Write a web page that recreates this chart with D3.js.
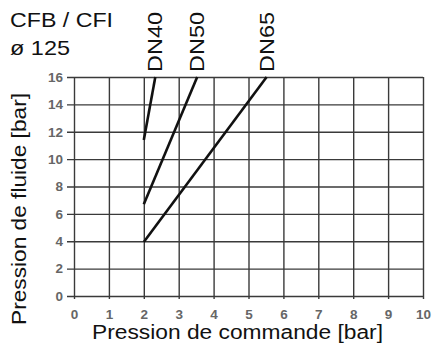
<!DOCTYPE html>
<html>
<head>
<meta charset="utf-8">
<script src="https://cdn.jsdelivr.net/npm/d3@7"></script>
<style>
  body { margin: 0; background: white; }
  svg { font-family: "Liberation Sans", Arial, sans-serif; }
</style>
</head>
<body>
<div id="chart"></div>
<script>
// Data
const xTicks = [0, 1, 2, 3, 4, 5, 6, 7, 8, 9, 10]
const yTicks = [0, 2, 4, 6, 8, 10, 12, 14, 16]
const seriesNames = ["DN40", "DN50", "DN65"]
const startPoints = [[2, 11.4], [2, 6.7], [2, 3.95]]
const endPoints = [[2.33, 16], [3.53, 16], [5.52, 16]]

// Set up size
var width = 436;
var height = 353;

let xScale = d3.scaleLinear().domain([0, 10]).range([74, 423])
let yScale = d3.scaleLinear().domain([0, 16]).range([296, 77])

let svg = d3.select("#chart")
  .append("svg")
  .attr("width", width)
  .attr("height", height)

// Grid lines + axes
let xAxis = d3.axisBottom(xScale).tickValues(xTicks).tickSize(-(296 - 77) - 3).tickSizeOuter(0).tickPadding(10)
let yAxis = d3.axisLeft(yScale).tickValues(yTicks).tickSize(-(423 - 74) - 7).tickSizeOuter(0).tickPadding(4)

let gx = svg.append("g")
  .attr("transform", "translate(0," + (296 + 3) + ")")
  .call(xAxis)
gx.select(".domain").remove()

let gy = svg.append("g")
  .attr("transform", "translate(" + (74 - 7) + ",0)")
  .call(yAxis)
gy.select(".domain").remove()

svg.selectAll(".tick line")
  .attr("stroke", "#3a3a3a")
  .attr("stroke-width", 1.4)
svg.selectAll(".tick text")
  .attr("fill", "#666")
  .attr("font-size", "13.5px")
  .attr("font-weight", "bold")

// Curves
let line = d3.line().x(d => xScale(d[0])).y(d => yScale(d[1]))
seriesNames.forEach(function (name, i) {
  svg.append("path")
    .attr("d", line([startPoints[i], endPoints[i]]))
    .attr("stroke", "#111")
    .attr("stroke-width", 2.6)
    .attr("fill", "none")

  svg.append("text")
    .attr("transform", "translate(" + (xScale(endPoints[i][0]) + 7) + ",72) rotate(-90)")
    .attr("font-size", "21px")
    .attr("textLength", 60)
    .attr("lengthAdjust", "spacingAndGlyphs")
    .attr("fill", "#111")
    .text(name)
})

// Title
svg.append("text")
  .attr("x", 10)
  .attr("y", 27)
  .attr("font-size", "21px")
  .attr("textLength", 103)
  .attr("lengthAdjust", "spacingAndGlyphs")
  .attr("fill", "#111")
  .text("CFB / CFI")

svg.append("text")
  .attr("x", 10)
  .attr("y", 55)
  .attr("font-size", "21px")
  .attr("textLength", 60)
  .attr("lengthAdjust", "spacingAndGlyphs")
  .attr("fill", "#111")
  .text("ø 125")

// Axis titles
svg.append("text")
  .attr("x", 92)
  .attr("y", 339)
  .attr("font-size", "20px")
  .attr("textLength", 291)
  .attr("lengthAdjust", "spacingAndGlyphs")
  .attr("fill", "#111")
  .text("Pression de commande [bar]")

svg.append("text")
  .attr("transform", "translate(26,325) rotate(-90)")
  .attr("font-size", "21px")
  .attr("textLength", 232)
  .attr("lengthAdjust", "spacingAndGlyphs")
  .attr("fill", "#111")
  .text("Pression de fluide [bar]")
</script>
</body>
</html>
